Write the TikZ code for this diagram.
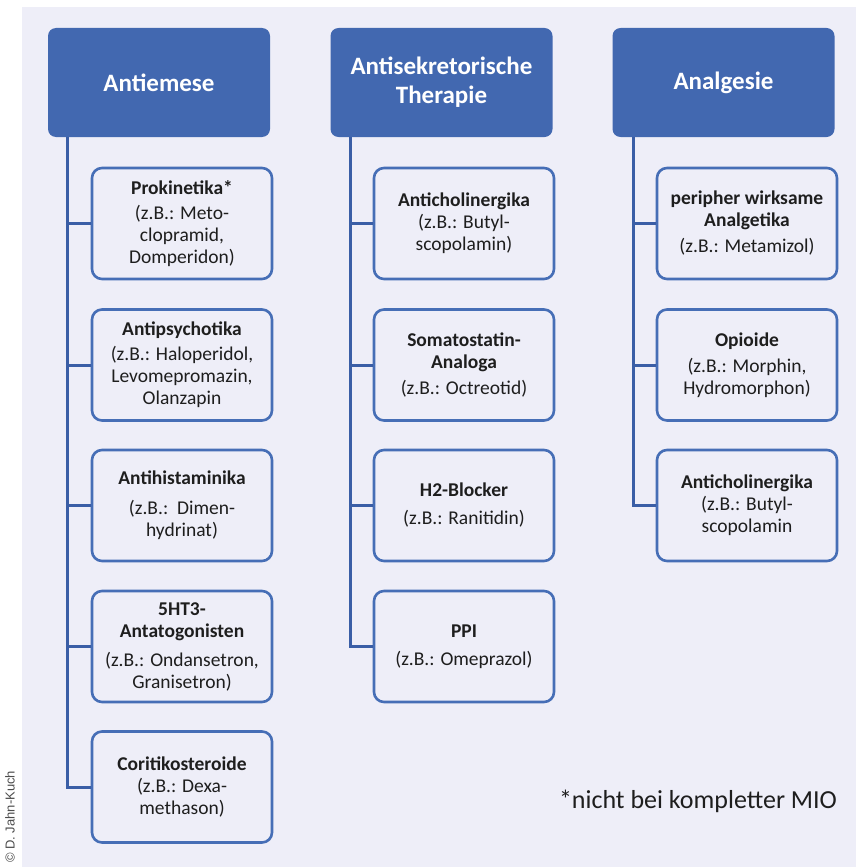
\documentclass[tikz,border=0pt]{standalone}
\usepackage{fontspec}
\setmainfont{Carlito}
\newfontfamily\copyfont{Liberation Sans}
\definecolor{bgcol}{RGB}{238,238,248}
\definecolor{headcol}{RGB}{66,104,176}
\definecolor{boxline}{RGB}{70,110,182}
\definecolor{connline}{RGB}{58,94,166}
\definecolor{txt}{RGB}{30,30,30}
\tikzset{
  header/.style={fill=headcol, draw=none, rounded corners=8pt, minimum width=222pt, minimum height=109pt,
    text=white, align=center, font=\fontsize{25}{29}\selectfont\bfseries, inner sep=0pt},
  child/.style={draw=boxline, line width=2.6pt, rounded corners=10pt, minimum width=180pt, minimum height=111pt,
    text=txt, align=center, font=\fontsize{19.5}{22}\selectfont, inner sep=0pt},
  conn/.style={draw=connline, line width=3pt},
}
\begin{document}
\begin{tikzpicture}[x=1pt,y=-1pt]
\fill[white] (0,0) rectangle (856,867);
\fill[bgcol] (22,7) rectangle (856,867);
\useasboundingbox (0,0) rectangle (856,867);

% headers
\node[header] (h1) at (159,82.5) {Antiemese};
\node[header] (h2) at (441.5,82.5) {Antisekretorische\\Therapie};
\node[header] (h3) at (723.5,82.5) {Analgesie\vphantom{A}};

% column 1
\node[child] (a1) at (182,223.5) {\textbf{Prokinetika*}\\[3pt](z.B.: Meto-\\clopramid,\\Domperidon)};
\node[child] (a2) at (182,365) {\textbf{Antipsychotika}\\[3pt](z.B.: Haloperidol,\\Levomepromazin,\\Olanzapin};
\node[child] (a3) at (182,505.5) {\textbf{Antihistaminika}\\[8pt](z.B.:\ \ Dimen-\\hydrinat)};
\node[child] (a4) at (182,646.5) {\textbf{5HT3-}\\\textbf{Antatogonisten}\\[7pt](z.B.: Ondansetron,\\Granisetron)};
\node[child] (a5) at (182,787) {\textbf{Coritikosteroide}\\(z.B.: Dexa-\\methason)};

% column 2
\node[child] (b1) at (464,223.5) {\textbf{Anticholinergika}\\(z.B.: Butyl-\\scopolamin)};
\node[child] (b2) at (464,365) {\textbf{Somatostatin-}\\\textbf{Analoga}\\[4pt](z.B.: Octreotid)};
\node[child] (b3) at (464,505.5) {\textbf{H2-Blocker}\\[6pt](z.B.: Ranitidin)};
\node[child] (b4) at (464,646.5) {\textbf{PPI}\\[6pt](z.B.: Omeprazol)};

% column 3
\node[child] (c1) at (747,223.5) {\textbf{peripher wirksame}\\\textbf{Analgetika}\\[4pt](z.B.: Metamizol)};
\node[child] (c2) at (747,365) {\textbf{Opioide}\\[4pt](z.B.: Morphin,\\Hydromorphon)};
\node[child] (c3) at (747,505.5) {\textbf{Anticholinergika}\\(z.B.: Butyl-\\scopolamin};

% connectors
\foreach \c in {a1,a2,a3,a4,a5}
  \draw[conn] ([xshift=20pt]h1.south west) |- (\c.west);
\foreach \c in {b1,b2,b3,b4}
  \draw[conn] ([xshift=20pt]h2.south west) |- (\c.west);
\foreach \c in {c1,c2,c3}
  \draw[conn] ([xshift=21pt]h3.south west) |- (\c.west);

% footnote
\node[text=txt, font=\fontsize{26}{30}\selectfont, inner sep=0pt] (fn) at (698,801) {*nicht bei kompletter MIO};

% copyright
\node[rotate=90, anchor=west, text=black!70, font=\copyfont\fontsize{13}{15}\selectfont, inner sep=0pt] (cp) at (10,863) {\textcopyright{} D. Jahn-Kuch};
\end{tikzpicture}
\end{document}
